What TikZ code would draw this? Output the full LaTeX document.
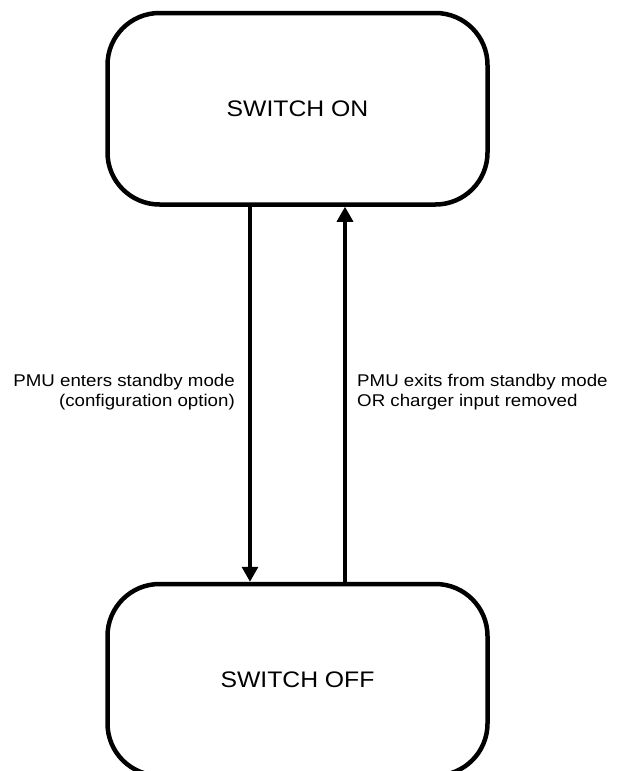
\documentclass[tikz,border=0pt]{standalone}
\usepackage{fontspec}
\setmainfont[FakeStretch=1.1]{Liberation Sans}
\usetikzlibrary{arrows.meta}
\begin{document}
\begin{tikzpicture}[x=1pt,y=-1pt,
  statebox/.style={draw=black, line width=4.5pt, rounded corners=52pt,
    minimum width=380pt, minimum height=191.5pt, inner sep=0pt,
    font=\fontsize{22.5}{27}\selectfont},
  trans/.style={line width=3.3pt, -{Triangle[width=16pt,length=15pt]}},
  lbl/.style={inner sep=0pt, font=\fontsize{17}{20}\selectfont}]
\useasboundingbox (0,0) rectangle (618,771);
\node[statebox] (on) at (297.5,108.75) {SWITCH ON};
\node[statebox] (off) at (297.5,679.75) {SWITCH OFF};
\draw[trans] ([xshift=-47.5pt]on.south) -- ([xshift=-47.5pt]off.north);
\draw[trans] ([xshift=47.5pt]off.north) -- ([xshift=47.5pt]on.south);
\node[lbl, anchor=north east, align=right] (l1) at (235,374) {PMU enters standby mode\\(configuration option)};
\node[lbl, anchor=north west, align=left] (l2) at (357,374) {PMU exits from standby mode\\OR charger input removed};
\end{tikzpicture}
\end{document}
